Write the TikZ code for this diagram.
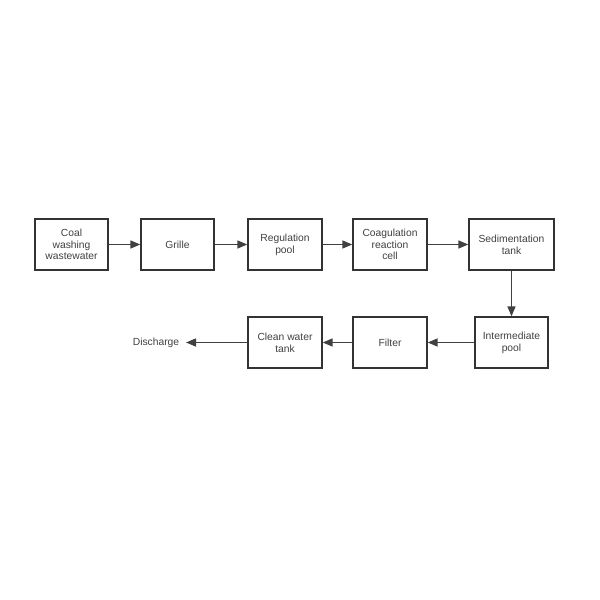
\documentclass[tikz,border=0pt]{standalone}
\usepackage{fontspec}
\setmainfont{Liberation Sans}
\usetikzlibrary{arrows.meta}
\begin{document}
\begin{tikzpicture}[x=1pt,y=-1pt,
  txt/.style={font=\fontsize{10.3}{11.8}\selectfont,text=black!75},
  box/.style={txt,draw=black!80,line width=1.3pt,minimum height=51pt,align=center,inner sep=0pt},
  flow/.style={draw=black!75,line width=1.5pt,-{Triangle[length=10pt,width=8pt]}}]
\useasboundingbox (0,0) rectangle (600,600);
\node[box,minimum width=73pt] (a) at (71.5,244.5) {Coal\\washing\\wastewater};
\node[box,minimum width=73pt] (b) at (177.5,244.5) {Grille};
\node[box,minimum width=74pt] (c) at (285,244.5) {Regulation\\pool};
\node[box,minimum width=74pt] (d) at (390,244.5) {Coagulation\\reaction\\cell};
\node[box,minimum width=85pt] (e) at (511.5,244.5) {Sedimentation\\tank};
\node[box,minimum width=73pt] (f) at (511.5,342.5) {Intermediate\\pool};
\node[box,minimum width=74pt] (g) at (390,342.5) {Filter};
\node[box,minimum width=74pt] (h) at (285,342.5) {Clean water\\tank};
\node[txt,inner sep=0pt] (i) at (156,342.5) {Discharge};
\coordinate (iend) at (186,342.5);
\draw[flow] (a) -- (b);
\draw[flow] (b) -- (c);
\draw[flow] (c) -- (d);
\draw[flow] (d) -- (e);
\draw[flow] (e) -- (f);
\draw[flow] (f) -- (g);
\draw[flow] (g) -- (h);
\draw[flow] (h) -- (iend);
\end{tikzpicture}
\end{document}
